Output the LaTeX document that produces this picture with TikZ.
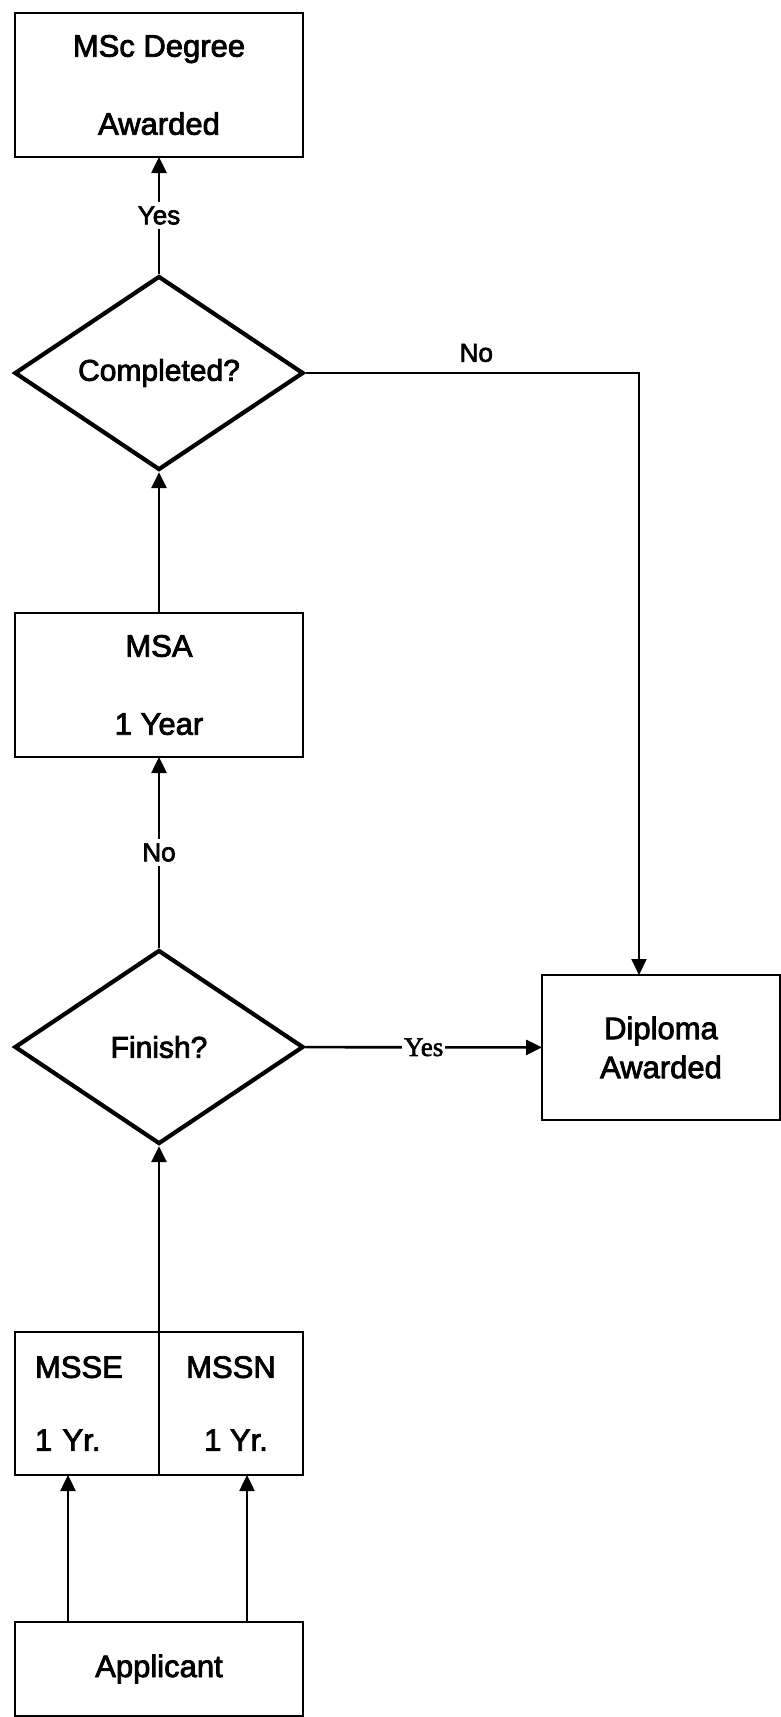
\documentclass[tikz,border=0pt]{standalone}
\usepackage{fontspec}
\setmainfont{Liberation Sans}[FakeBold=2.6]
\newfontfamily\timesfont{Liberation Serif}[FakeBold=2]
\usetikzlibrary{shapes.geometric,arrows.meta,positioning}

\begin{document}
\begin{tikzpicture}[x=1pt,y=-1pt,every node/.append style={inner sep=0pt}]
    \tikzstyle{box}=[rectangle, draw=black, line width=2.8pt, outer sep=0pt, minimum width=288pt, minimum height=144pt, align=center, font=\fontsize{31}{78}\selectfont]
    \tikzstyle{decision}=[diamond, aspect=1.5, draw=black, line width=4.2pt, minimum width=289pt, minimum height=194pt, font=\fontsize{30}{36}\selectfont]
    \tikzstyle{lbl}=[fill=white, inner sep=4pt, font=\fontsize{26}{30}\selectfont]
    \tikzstyle{arr}=[-{Triangle[length=16pt,width=15pt]}, line width=2.6pt]
    \useasboundingbox (0,0) rectangle (781,1717);
    \node[box] (msc) at (159,85) {MSc Degree\\Awarded};
    \node[decision] (completed) at (159,373) {Completed?};
    \node[box] (msa) at (159,685) {MSA\\1 Year};
    \node[decision] (finish) at (159,1047) {Finish?};
    \node[box, minimum width=238pt, minimum height=145pt, font=\fontsize{31}{39}\selectfont] (diploma) at (661,1047.5) {Diploma\\Awarded};
    \node[box, minimum width=144pt, minimum height=143pt, text width=104pt, align=left, font=\fontsize{31}{73}\selectfont] (msse) at (87,1403.5) {MSSE\\1 Yr.};
    \node[box, minimum width=144pt, minimum height=143pt, font=\fontsize{31}{73}\selectfont, right=0pt of msse] (mssn) {MSSN\\\hspace{10pt}1 Yr.};
    \node[box, minimum height=94pt] (applicant) at (159,1669) {Applicant};
    % connectors
    \draw[arr] (completed) -- node[lbl] {Yes} (msc);
    \draw[arr] (msa) -- (completed);
    \draw[arr] (finish) -- node[lbl] {No} (msa);
    \draw[arr] (finish) -- node[lbl, inner sep=2pt, font=\timesfont\fontsize{27}{30}\selectfont] {Yes} (diploma);
    \draw[arr, line width=2pt] (completed.east) -| node[pos=0.25, above=10pt, xshift=4pt, font=\fontsize{26}{30}\selectfont] {No} ([xshift=-22pt]diploma.north);
    \draw[arr] (msse.north east) -- (finish);
    \draw[arr] ([xshift=-91pt]applicant.north) -- ([xshift=-19pt]msse.south);
    \draw[arr] ([xshift=88pt]applicant.north) -- ([xshift=16pt]mssn.south);
\end{tikzpicture}
\end{document}
